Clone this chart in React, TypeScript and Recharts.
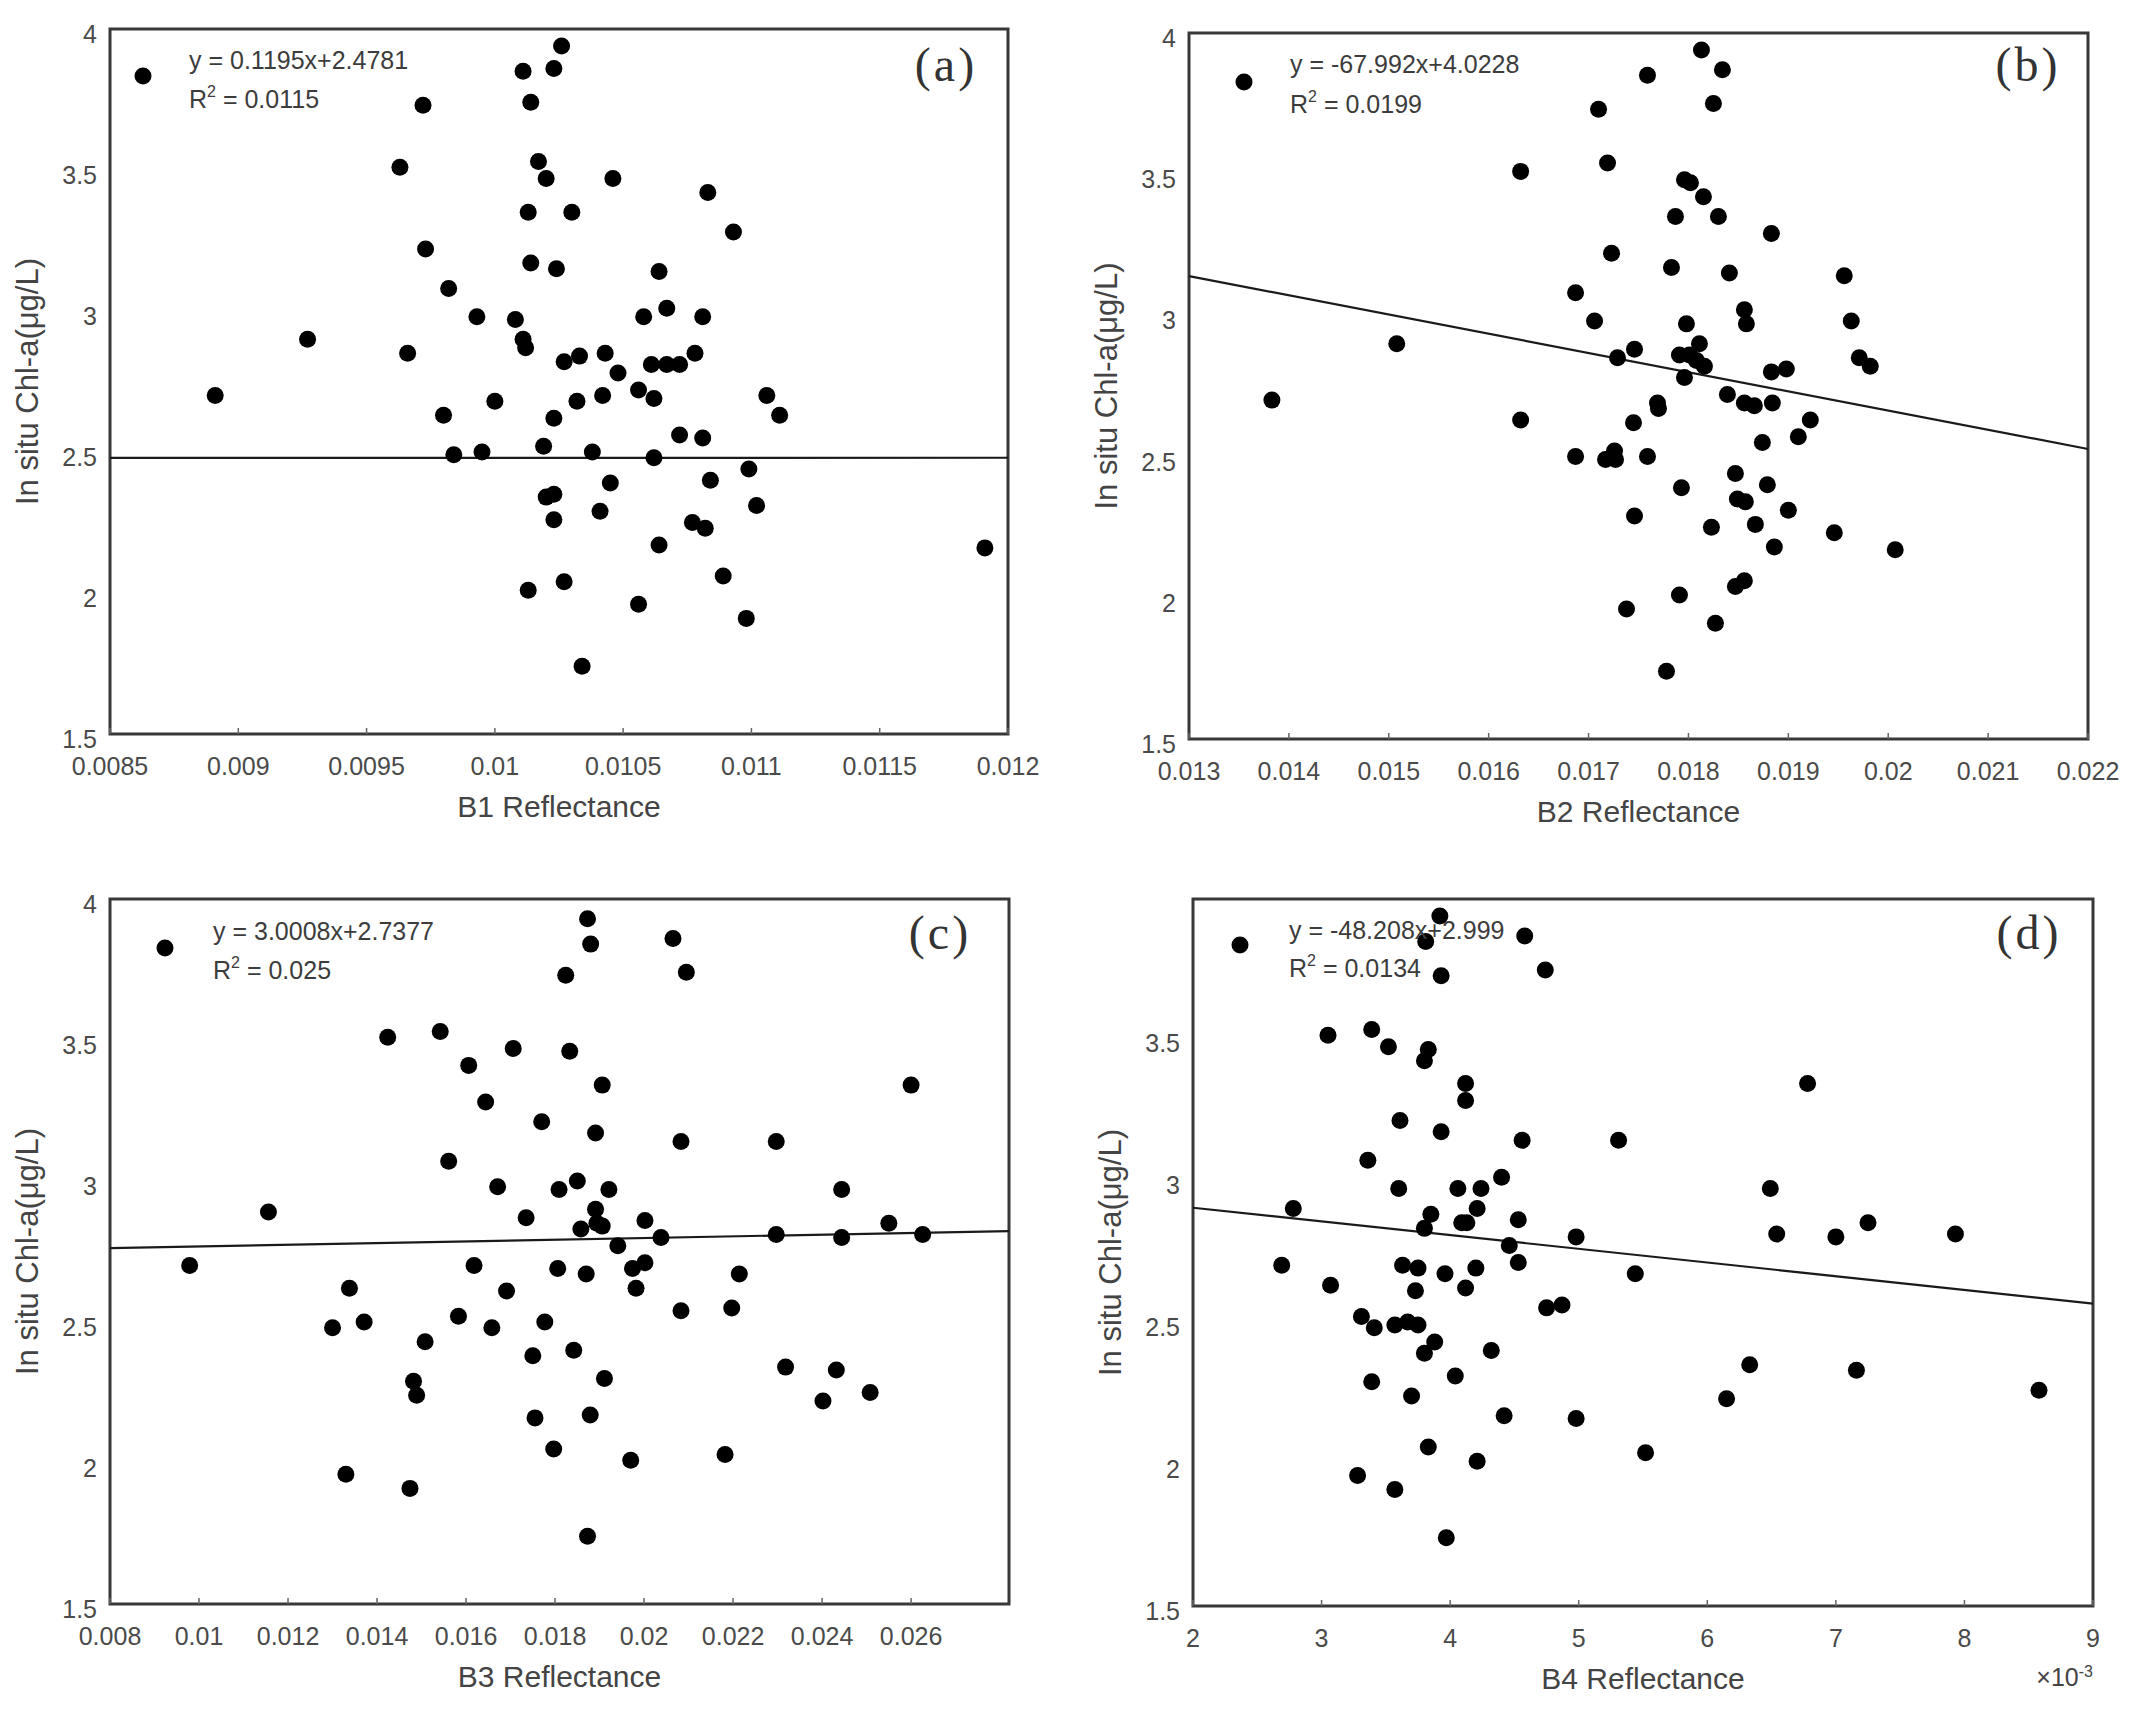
import React from 'react'
import { ScatterChart, Scatter, XAxis, YAxis, ReferenceLine, ReferenceArea } from 'recharts'

// (a) B1 reflectance vs in situ Chl-a
const b1X = [0.00891, 0.00927, 0.00963, 0.00966, 0.00972, 0.00973, 0.0098, 0.00982, 0.00984, 0.00993, 0.00995, 0.01, 0.01008, 0.01011, 0.01011, 0.01012, 0.01014, 0.01013, 0.01014, 0.01013, 0.01017, 0.01019, 0.0102, 0.0102, 0.01023, 0.01023, 0.01023, 0.01023, 0.01024, 0.01026, 0.01027, 0.01027, 0.0103, 0.01032, 0.01033, 0.01034, 0.01038, 0.01041, 0.01042, 0.01043, 0.01045, 0.01046, 0.01048, 0.01056, 0.01056, 0.01058, 0.01061, 0.01062, 0.01062, 0.01064, 0.01064, 0.01067, 0.01067, 0.01072, 0.01072, 0.01077, 0.01078, 0.01081, 0.01081, 0.01082, 0.01083, 0.01084, 0.01089, 0.01093, 0.01098, 0.01099, 0.01102, 0.01106, 0.01111, 0.01191]
const b1Y = [2.7, 2.9, 3.51, 2.85, 3.73, 3.22, 2.63, 3.08, 2.49, 2.98, 2.5, 2.68, 2.97, 3.85, 2.9, 2.87, 3.74, 3.35, 3.17, 2.01, 3.53, 2.52, 3.47, 2.34, 3.86, 2.35, 2.62, 2.26, 3.15, 3.94, 2.82, 2.04, 3.35, 2.68, 2.84, 1.74, 2.5, 2.29, 2.7, 2.85, 2.39, 3.47, 2.78, 1.96, 2.72, 2.98, 2.81, 2.69, 2.48, 3.14, 2.17, 3.01, 2.81, 2.81, 2.56, 2.25, 2.85, 2.98, 2.55, 2.23, 3.42, 2.4, 2.06, 3.28, 1.91, 2.44, 2.31, 2.7, 2.63, 2.16]
const b1Ticks = [0.0085, 0.009, 0.0095, 0.01, 0.0105, 0.011, 0.0115, 0.012]

// (b) B2
const b2X = [0.01383, 0.01508, 0.01632, 0.01632, 0.01687, 0.01687, 0.01706, 0.0171, 0.01717, 0.01719, 0.01723, 0.01726, 0.01727, 0.01729, 0.01745, 0.01746, 0.01746, 0.01738, 0.01759, 0.01759, 0.01769, 0.0177, 0.01783, 0.01787, 0.01791, 0.01793, 0.01791, 0.01778, 0.01796, 0.01798, 0.01796, 0.01801, 0.01802, 0.01808, 0.01811, 0.01813, 0.01815, 0.01816, 0.01823, 0.01825, 0.01827, 0.0183, 0.01834, 0.01839, 0.01841, 0.01847, 0.01849, 0.01847, 0.01856, 0.01858, 0.01856, 0.01857, 0.01856, 0.01866, 0.01867, 0.01874, 0.01879, 0.01883, 0.01883, 0.01884, 0.01886, 0.01898, 0.019, 0.0191, 0.01922, 0.01946, 0.01956, 0.01963, 0.01971, 0.01982, 0.02007]
const b2Y = [2.7, 2.9, 3.51, 2.63, 3.08, 2.5, 2.98, 3.73, 2.49, 3.54, 3.22, 2.52, 2.49, 2.85, 2.62, 2.88, 2.29, 1.96, 3.85, 2.5, 2.69, 2.67, 3.17, 3.35, 2.86, 2.39, 2.01, 1.74, 3.48, 2.97, 2.78, 2.86, 3.47, 2.84, 2.9, 3.94, 3.42, 2.82, 2.25, 3.75, 1.91, 3.35, 3.87, 2.72, 3.15, 2.44, 2.35, 2.04, 3.02, 2.97, 2.69, 2.34, 2.06, 2.68, 2.26, 2.55, 2.4, 3.29, 2.8, 2.69, 2.18, 2.81, 2.31, 2.57, 2.63, 2.23, 3.14, 2.98, 2.85, 2.82, 2.17]
const b2Ticks = [0.013, 0.014, 0.015, 0.016, 0.017, 0.018, 0.019, 0.02, 0.021, 0.022]

// (c) B3
const b3X = [0.00979, 0.01156, 0.013, 0.0133, 0.01338, 0.01371, 0.01424, 0.01474, 0.01482, 0.01489, 0.01508, 0.01542, 0.01561, 0.01583, 0.01606, 0.01618, 0.01644, 0.01658, 0.01671, 0.01691, 0.01706, 0.01735, 0.0175, 0.01755, 0.0177, 0.01777, 0.01797, 0.01806, 0.01809, 0.01824, 0.01833, 0.01842, 0.0185, 0.01858, 0.0187, 0.01873, 0.01873, 0.0188, 0.01879, 0.01891, 0.01891, 0.01894, 0.01906, 0.01906, 0.01911, 0.01921, 0.01941, 0.01974, 0.01982, 0.0197, 0.02002, 0.02002, 0.02038, 0.02065, 0.02083, 0.02083, 0.02095, 0.02182, 0.02197, 0.02214, 0.02297, 0.02297, 0.02318, 0.02402, 0.02432, 0.02444, 0.02444, 0.02508, 0.0255, 0.026, 0.02626]
const b3Y = [2.7, 2.89, 2.48, 1.96, 2.62, 2.5, 3.51, 1.91, 2.29, 2.24, 2.43, 3.53, 3.07, 2.52, 3.41, 2.7, 3.28, 2.48, 2.98, 2.61, 3.47, 2.87, 2.38, 2.16, 3.21, 2.5, 2.05, 2.69, 2.97, 3.73, 3.46, 2.4, 3.0, 2.83, 2.67, 1.74, 3.93, 3.84, 2.17, 2.9, 3.17, 2.85, 3.34, 2.84, 2.3, 2.97, 2.77, 2.69, 2.62, 2.01, 2.86, 2.71, 2.8, 3.86, 3.14, 2.54, 3.74, 2.03, 2.55, 2.67, 3.14, 2.81, 2.34, 2.22, 2.33, 2.97, 2.8, 2.25, 2.85, 3.34, 2.81]
const b3Ticks = [0.008, 0.01, 0.012, 0.014, 0.016, 0.018, 0.02, 0.022, 0.024, 0.026]

// (d) B4
const b4X = [0.00269, 0.00278, 0.00305, 0.00307, 0.00328, 0.00331, 0.00336, 0.00339, 0.00339, 0.00341, 0.00352, 0.00357, 0.00357, 0.0036, 0.00361, 0.00363, 0.00367, 0.0037, 0.00373, 0.00375, 0.00375, 0.0038, 0.0038, 0.0038, 0.00381, 0.00383, 0.00383, 0.00385, 0.00388, 0.00392, 0.00393, 0.00393, 0.00396, 0.00397, 0.00404, 0.00406, 0.00409, 0.00412, 0.00412, 0.00412, 0.00413, 0.0042, 0.00421, 0.00421, 0.00424, 0.00432, 0.0044, 0.00442, 0.00446, 0.00453, 0.00453, 0.00456, 0.00458, 0.00474, 0.00475, 0.00487, 0.00498, 0.00498, 0.00531, 0.00544, 0.00552, 0.00615, 0.00633, 0.00649, 0.00654, 0.00678, 0.007, 0.00716, 0.00725, 0.00793, 0.00858]
const b4Y = [2.7, 2.9, 3.51, 2.63, 1.96, 2.52, 3.07, 3.53, 2.29, 2.48, 3.47, 1.91, 2.49, 2.97, 3.21, 2.7, 2.5, 2.24, 2.61, 2.49, 2.69, 2.83, 2.39, 3.42, 3.84, 3.46, 2.06, 2.88, 2.43, 3.93, 3.72, 3.17, 2.67, 1.74, 2.31, 2.97, 2.85, 3.34, 3.28, 2.62, 2.85, 2.69, 2.9, 2.01, 2.97, 2.4, 3.01, 2.17, 2.77, 2.86, 2.71, 3.14, 3.86, 3.74, 2.55, 2.56, 2.8, 2.16, 3.14, 2.67, 2.04, 2.23, 2.35, 2.97, 2.81, 3.34, 2.8, 2.33, 2.85, 2.81, 2.26]
const b4Ticks = [0.002, 0.003, 0.004, 0.005, 0.006, 0.007, 0.008, 0.009]

const yTicksFull = [1.5, 2, 2.5, 3, 3.5, 4]
const yTicksNoTop = [1.5, 2, 2.5, 3, 3.5]

const slopes = [0.1195, -67.992, 3.0008, -48.208]
const intercepts = [2.4781, 4.0228, 2.7377, 2.999]
const eqLabels = ['y = 0.1195x+2.4781', 'y = -67.992x+4.0228', 'y = 3.0008x+2.7377', 'y = -48.208x+2.999']
const r2Labels = ['0.0115', '0.0199', '0.025', '0.0134']
const panelTags = ['(a)', '(b)', '(c)', '(d)']
const xTitles = ['B1 Reflectance', 'B2 Reflectance', 'B3 Reflectance', 'B4 Reflectance']

const SANS = '"Liberation Sans", Arial, sans-serif'
const SERIF = '"Liberation Serif", "Times New Roman", serif'
const YAXIS_W = 110
const M_TOP = 25
const M_RIGHT = 34
const XAXIS_H = 110
const X_TICK_GAP = 23

type Panel = {
  xs: number[]
  ys: number[]
  xDomain: [number, number]
  yDomain: [number, number]
  xTicks: number[]
  yTicks: number[]
  fmt: (v: number) => string
  plot: { l: number; t: number; r: number; b: number }
  legend: { dot: [number, number]; textX: number; line1: number; line2: number }
  tag: [number, number]
}

const panels: Panel[] = [
  {
    xs: b1X, ys: b1Y, xDomain: [0.0085, 0.012], yDomain: [1.5, 4], xTicks: b1Ticks, yTicks: yTicksFull,
    fmt: (v) => String(v),
    plot: { l: 110, t: 29, r: 1008, b: 734 },
    legend: { dot: [33, 47], textX: 79, line1: 40, line2: 79 },
    tag: [62, 35],
  },
  {
    xs: b2X, ys: b2Y, xDomain: [0.013, 0.022], yDomain: [1.5, 4], xTicks: b2Ticks, yTicks: yTicksFull,
    fmt: (v) => String(v),
    plot: { l: 1189, t: 33, r: 2088, b: 739 },
    legend: { dot: [55, 49], textX: 101, line1: 40, line2: 80 },
    tag: [60, 31],
  },
  {
    xs: b3X, ys: b3Y, xDomain: [0.008, 0.0282], yDomain: [1.5, 4], xTicks: b3Ticks, yTicks: yTicksFull,
    fmt: (v) => String(v),
    plot: { l: 110, t: 899, r: 1009, b: 1604 },
    legend: { dot: [55, 49], textX: 103, line1: 41, line2: 80 },
    tag: [69, 33],
  },
  {
    xs: b4X, ys: b4Y, xDomain: [0.002, 0.009], yDomain: [1.5, 3.99], xTicks: b4Ticks, yTicks: yTicksNoTop,
    fmt: (v) => String(Math.round(v * 1000)),
    plot: { l: 1193, t: 899, r: 2093, b: 1606 },
    legend: { dot: [47, 46], textX: 96, line1: 40, line2: 78 },
    tag: [64, 33],
  },
]

function XTick(props: any) {
  const { x, y, payload, fmt } = props
  const axisY = y - X_TICK_GAP
  return (
    <g>
      <line x1={x} x2={x} y1={axisY} y2={axisY - 6} stroke="#666" strokeWidth={1.5} />
      <text x={x} y={y} dy="0.72em" textAnchor="middle" fontSize={25} fontFamily={SANS} fill="#4a4a4a">
        {fmt(payload.value)}
      </text>
    </g>
  )
}

function YTick(props: any) {
  const { x, y, payload } = props
  return (
    <text x={x} y={y + 5} dy="0.36em" textAnchor="end" fontSize={25} fontFamily={SANS} fill="#4a4a4a">
      {String(payload.value)}
    </text>
  )
}

const dot = (p: any) => <circle cx={p.cx} cy={p.cy} r={8.5} fill="#000" />

function ScatterPanel({ p, i }: { p: Panel; i: number }) {
  const data = p.xs.map((x, k) => ({ x, y: p.ys[k] }))
  const pw = p.plot.r - p.plot.l
  const ph = p.plot.b - p.plot.t
  const w = YAXIS_W + pw + M_RIGHT
  const h = M_TOP + ph + XAXIS_H
  const left = p.plot.l - YAXIS_W
  const top = p.plot.t - M_TOP
  const [x0, x1] = p.xDomain
  const fit = (x: number) => slopes[i] * x + intercepts[i]
  return (
    <div style={{ position: 'absolute', left, top, width: w, height: h }}>
      <ScatterChart width={w} height={h} margin={{ top: M_TOP, right: M_RIGHT, bottom: 0, left: 0 }}>
        <XAxis
          type="number"
          dataKey="x"
          domain={p.xDomain}
          ticks={p.xTicks}
          interval={0}
          allowDataOverflow
          height={XAXIS_H}
          axisLine={false}
          tickLine={false}
          tickSize={0}
          tickMargin={X_TICK_GAP}
          tick={(t: any) => <XTick {...t} fmt={p.fmt} />}
          label={{ value: xTitles[i], position: 'insideTop', offset: 62, fontSize: 30, fontFamily: SANS, fill: '#444' }}
        />
        <YAxis
          type="number"
          dataKey="y"
          domain={p.yDomain}
          ticks={p.yTicks}
          interval={0}
          allowDataOverflow
          width={YAXIS_W}
          axisLine={false}
          tickLine={false}
          tickSize={0}
          tickMargin={13}
          tick={(t: any) => <YTick {...t} />}
          label={{
            value: 'In situ Chl-a(μg/L)',
            angle: -90,
            position: 'insideLeft',
            offset: 27,
            fontSize: 31,
            fontFamily: SANS,
            fill: '#444',
            style: { textAnchor: 'middle' },
          }}
        />
        <ReferenceArea x1={x0} x2={x1} y1={p.yDomain[0]} y2={p.yDomain[1]} fill="none" stroke="#383838" strokeWidth={3} ifOverflow="visible" />
        <Scatter data={data} shape={dot} isAnimationActive={false} />
        <ReferenceLine
          segment={[{ x: x0, y: fit(x0) }, { x: x1, y: fit(x1) }]}
          stroke="#1a1a1a"
          strokeWidth={2.2}
          ifOverflow="visible"
        />
      </ScatterChart>
      <svg width={w} height={h} style={{ position: 'absolute', left: 0, top: 0, pointerEvents: 'none' }}>
        <g transform={`translate(${YAXIS_W},${M_TOP})`}>
          <circle cx={p.legend.dot[0]} cy={p.legend.dot[1]} r={8.5} fill="#000" />
          <text x={p.legend.textX} y={p.legend.line1} fontSize={25} fontFamily={SANS} fill="#3c3c3c">
            {eqLabels[i]}
          </text>
          <text x={p.legend.textX} y={p.legend.line2} fontSize={25} fontFamily={SANS} fill="#3c3c3c">
            R<tspan dy={-11} fontSize={16}>2</tspan>
            <tspan dy={11}> = {r2Labels[i]}</tspan>
          </text>
          <text
            x={pw - p.tag[0]}
            y={p.tag[1]}
            dy="0.35em"
            textAnchor="middle"
            fontSize={48}
            fontFamily={SERIF}
            fill="#333"
            letterSpacing={3}
          >
            {panelTags[i]}
          </text>
        </g>
      </svg>
    </div>
  )
}

export default function App() {
  return (
    <div
      style={{
        position: 'absolute',
        left: 0,
        top: 0,
        width: 2130,
        height: 1716,
        overflow: 'hidden',
        background: '#fff',
        fontFamily: SANS,
      }}
    >
      {panels.map((p, i) => (
        <ScatterPanel key={i} p={p} i={i} />
      ))}
      <div
        style={{
          position: 'absolute',
          right: 2130 - 2093,
          top: 1663,
          fontSize: 25,
          color: '#444',
          fontFamily: SANS,
          whiteSpace: 'nowrap',
        }}
      >
        ×10<sup style={{ fontSize: 16 }}>-3</sup>
      </div>
    </div>
  )
}
